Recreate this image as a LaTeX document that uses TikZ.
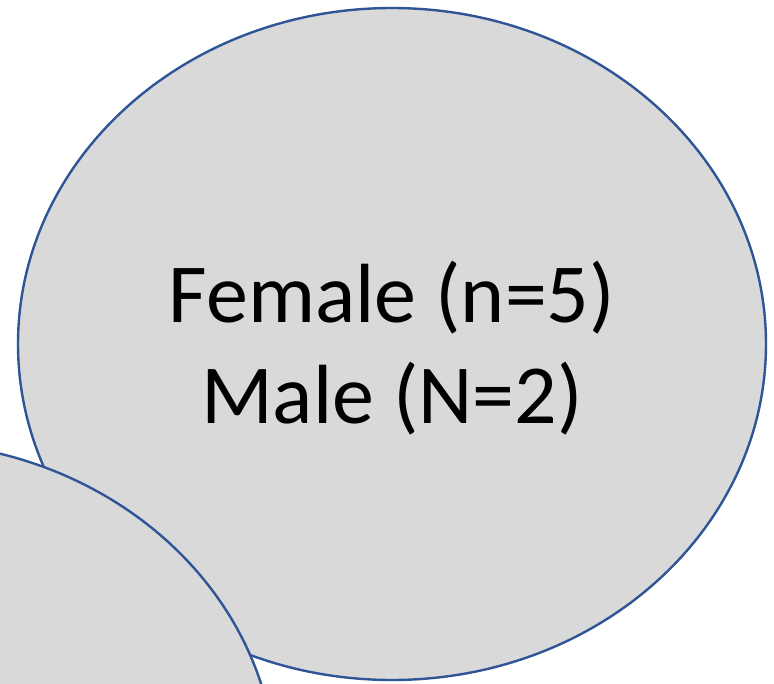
\documentclass[tikz,border=0pt]{standalone}
\usepackage{fontspec}
\setmainfont{Carlito}
\definecolor{fillgray}{HTML}{D9D9D9}
\definecolor{edgeblue}{HTML}{2F5597}
\begin{document}
\begin{tikzpicture}[x=1pt,y=-1pt,
  blob/.style={fill=fillgray,draw=edgeblue,line width=2.4pt},
  label/.style={anchor=base,inner sep=0pt,font=\fontsize{84}{101}\selectfont}]
\useasboundingbox (0,0) rectangle (774,683);
\clip (0,0) rectangle (774,683);
\draw[blob] (392,344) ellipse [x radius=374, y radius=336];
\draw[blob] (-98,778) ellipse [x radius=374, y radius=336];
\node[label] (female) at (392,322) {Female (n=5)};
\node[label] (male) at (392,423) {Male (N=2)};
\end{tikzpicture}
\end{document}
